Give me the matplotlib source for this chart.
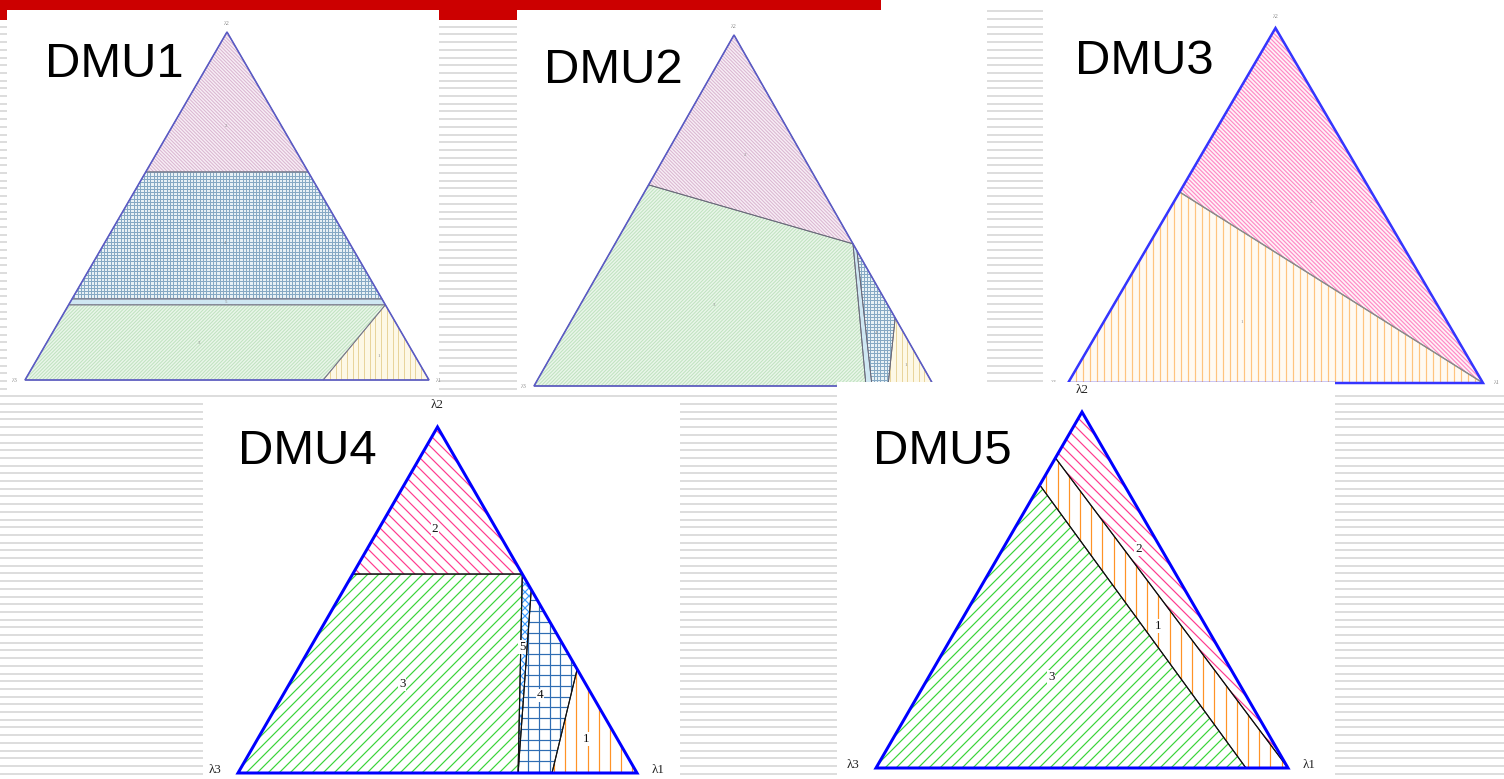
import numpy as np
import matplotlib.pyplot as plt
from matplotlib.patches import Polygon, Rectangle
from matplotlib.collections import LineCollection

W, H = 1504, 779
DPI = 72

plt.rcParams['font.family'] = ['Liberation Sans', 'DejaVu Sans']

# region corners as (lambda1, lambda2); lambda3 = 1 - lambda1 - lambda2
dmu1_ids = ['2', '4', '5', '3', '1']
dmu1_regions = [
    [(0, 0.598), (0, 1), (0.402, 0.598)],
    [(0, 0.233), (0.767, 0.233), (0.402, 0.598), (0, 0.598)],
    [(0, 0.216), (0.784, 0.216), (0.767, 0.233), (0, 0.233)],
    [(0, 0), (0.738, 0), (0.784, 0.216), (0, 0.216)],
    [(0.738, 0), (1, 0), (0.784, 0.216)],
]
dmu1_label_pos = [(0.133, 0.730), (0.298, 0.394), (0.386, 0.224), (0.378, 0.106), (0.84, 0.069)]

dmu2_ids = ['2', '3', '5', '4', '1']
dmu2_regions = [
    [(0, 0.573), (0, 1), (0.595, 0.405)],
    [(0, 0), (0.83, 0), (0.595, 0.405), (0, 0.573)],
    [(0.83, 0), (0.845, 0), (0.615, 0.385), (0.595, 0.405)],
    [(0.845, 0), (0.885, 0), (0.806, 0.194), (0.615, 0.385)],
    [(0.885, 0), (1, 0), (0.806, 0.194)],
]
dmu2_label_pos = [(0.198, 0.658), (0.335, 0.231), None, (0.78, 0.151), (0.90, 0.06)]

dmu3_ids = ['2', '1']
dmu3_regions = [
    [(0, 0.538), (0, 1), (1, 0)],
    [(0, 0), (1, 0), (0, 0.538)],
]
dmu3_label_pos = [(0.331, 0.51), (0.333, 0.172)]

dmu4_ids = ['2', '3', '5', '4', '1']
dmu4_regions = [
    [(0, 0.575), (0, 1), (0.425, 0.575)],
    [(0, 0), (0.702, 0), (0.425, 0.575), (0, 0.575)],
    [(0.702, 0), (0.425, 0.575), (0.47, 0.53)],
    [(0.702, 0), (0.47, 0.53), (0.70, 0.30), (0.787, 0)],
    [(0.787, 0), (0.70, 0.30), (1, 0)],
]
dmu4_label_pos = [(0.141, 0.705), (0.283, 0.257), (0.53, 0.364), (0.644, 0.225), (0.823, 0.098)]

dmu5_ids = ['2', '1', '3']
dmu5_regions = [
    [(0, 0.871), (0, 1), (1, 0)],
    [(0, 0.795), (0, 0.871), (1, 0), (0.898, 0)],
    [(0, 0), (0.898, 0), (0, 0.795)],
]
dmu5_label_pos = [(0.329, 0.615), (0.485, 0.399), (0.297, 0.256)]

# face colour, hatch colour, hatch kind and hatch step (px) per region
faded = {
    '1': ('#fdf8e6', '#e8d49c', '|', 5.7),
    '2': ('#f7edf5', '#dab6d0', '\\', 3.5),
    '3': ('#e9f6e9', '#c0e2c0', '/', 3.5),
    '4': ('#e8f1f5', '#86a9c4', '+', 3.3),
    '5': ('#cfe7f2', None, None, 0),
}
soft = {
    '1': ('#fffaf2', '#ffc47e', '|', 7.0),
    '2': ('#fff2f8', '#ff8cc6', '\\', 4.2),
}
bright = {
    '1': ('white', '#ff9326', '|', 11.2),
    '2': ('white', '#ff3d8f', '\\', 11.0),
    '3': ('white', '#3ad43a', '/', 11.0),
    '4': ('white', '#2f6db3', '+', 10.7),
    '5': ('white', '#3b9cff', 'x', 8.0),
}


def tern(l1, l2):
    return l1 + 0.5 * l2, l2


def hatch_segments(kind, step, bw, bh):
    pad = 20
    segs = []
    if kind in ('|', '+'):
        for x in np.arange(-pad, bw + pad, step):
            segs.append([(x, -pad), (x, bh + pad)])
    if kind in ('-', '+'):
        for y in np.arange(-pad, bh + pad, step):
            segs.append([(-pad, y), (bw + pad, y)])
    if kind in ('/', 'x'):
        for c in np.arange(-bh - pad, bw + pad, step):
            segs.append([(c - pad, -pad), (c + bh + pad, bh + pad)])
    if kind in ('\\', 'x'):
        for c in np.arange(-pad, bw + bh + pad, step):
            segs.append([(c + pad, -pad), (c - bh - pad, bh + pad)])
    return [[(x / bw, y / bh) for x, y in s] for s in segs]


fig = plt.figure(figsize=(W / DPI, H / DPI), dpi=DPI)

# slide background: grey rules and red title bar
bg = fig.add_axes([0, 0, 1, 1])
bg.set_xlim(0, W)
bg.set_ylim(H, 0)
bg.axis('off')
bg.hlines(np.arange(404 - 7.7 * 51, H, 7.7), 0, W, color='#dadada', lw=1.8, zorder=1)
bg.add_patch(Rectangle((0, 0), 881, 10, color='#cc0000', lw=0, zorder=3))
bg.add_patch(Rectangle((0, 0), 517, 20, color='#cc0000', lw=0, zorder=3))


def make_panel(box, tri):
    x0, y0, x1, y1 = box
    bx0, bx1, by, ay = tri
    ax = fig.add_axes([x0 / W, 1 - y1 / H, (x1 - x0) / W, (y1 - y0) / H])
    bw, bh = bx1 - bx0, by - ay
    ax.set_xlim((x0 - bx0) / bw, (x1 - bx0) / bw)
    ax.set_ylim((by - y1) / bh, (by - y0) / bh)
    ax.set_facecolor('white')
    ax.set_xticks([])
    ax.set_yticks([])
    for s in ax.spines.values():
        s.set_visible(False)
    return ax, bw, bh


def draw_simplex(panel, ids, regions, label_pos, look, edge, edge_w, line_col, line_w,
                 hatch_w, num_kw, corner_kw, corner_off):
    ax, bw, bh = panel
    for rid, pts in zip(ids, regions):
        face, hcol, kind, step = look[rid]
        xy = [tern(a, b) for a, b in pts]
        poly = Polygon(xy, facecolor=face, edgecolor='none', lw=0)
        ax.add_patch(poly)
        if kind:
            lc = LineCollection(hatch_segments(kind, step, bw, bh), colors=hcol,
                                linewidths=hatch_w)
            ax.add_collection(lc)
            lc.set_clip_path(poly)
        ax.add_patch(Polygon(xy, fill=False, edgecolor=line_col, lw=line_w, zorder=3))
    for rid, pos in zip(ids, label_pos):
        if pos is not None:
            ax.text(*tern(*pos), rid, ha='center', va='center', zorder=4, **num_kw)
    ax.add_patch(Polygon([tern(0, 0), tern(1, 0), tern(0, 1)], fill=False,
                         edgecolor=edge, lw=edge_w, joinstyle='miter', zorder=5))
    corners = [('λ2', tern(0, 1)), ('λ3', tern(0, 0)), ('λ1', tern(1, 0))]
    for (name, xy), off in zip(corners, corner_off):
        ax.annotate(name, xy=xy, xytext=off, textcoords='offset points',
                    ha='center', va='center', **corner_kw)


tiny_num = dict(fontsize=5, color='#8c8c8c', family='Liberation Serif')
tiny_corner = dict(fontsize=6, color='#8c8c8c', family='Liberation Serif')
big_num = dict(fontsize=13, color='#111111', family='Liberation Serif',
               bbox=dict(fc='white', ec='none', pad=0.6))
big_corner = dict(fontsize=13, color='#222222', family='Liberation Serif')
offs = [(0, 22), (-23, 3), (21, 3)]
small_offs = [(0, 9), (-10, 0), (10, 0)]

p1 = make_panel((7, 10, 439, 395), (25, 429, 380, 32))
draw_simplex(p1, dmu1_ids, dmu1_regions, dmu1_label_pos, faded, '#5a5ac6', 1.6,
             '#7a7a8a', 0.9, 1.0, tiny_num, tiny_corner, small_offs)

p2 = make_panel((517, 10, 987, 393), (534, 934, 386, 35))
draw_simplex(p2, dmu2_ids, dmu2_regions, dmu2_label_pos, faded, '#5a5ac6', 1.6,
             '#6a6a7a', 0.9, 1.0, tiny_num, tiny_corner, small_offs)

p3 = make_panel((1043, 0, 1504, 394), (1068, 1483, 383, 28))
draw_simplex(p3, dmu3_ids, dmu3_regions, dmu3_label_pos, soft, '#3535ff', 2.5,
             '#8a8a8a', 1.2, 1.2, tiny_num, tiny_corner, [(0, 12), (-14, 0), (14, 0)])

p4 = make_panel((203, 397, 680, 779), (238, 637, 773, 427))
draw_simplex(p4, dmu4_ids, dmu4_regions, dmu4_label_pos, bright, '#0000ff', 3,
             '#111111', 1.1, 1.2, big_num, big_corner, offs)

p5 = make_panel((837, 382, 1335, 779), (876, 1288, 768, 412))
draw_simplex(p5, dmu5_ids, dmu5_regions, dmu5_label_pos, bright, '#0000ff', 3,
             '#111111', 1.1, 1.2, big_num, big_corner, offs)

titles = ['DMU1', 'DMU2', 'DMU3', 'DMU4', 'DMU5']
title_xy = [(45, 77), (544, 83), (1075, 74), (238, 464), (873, 464)]
for name, (tx, ty) in zip(titles, title_xy):
    fig.text(tx / W, 1 - ty / H, name, fontsize=49, color='black',
             ha='left', va='baseline')

fig.savefig('out.png', dpi=DPI)
